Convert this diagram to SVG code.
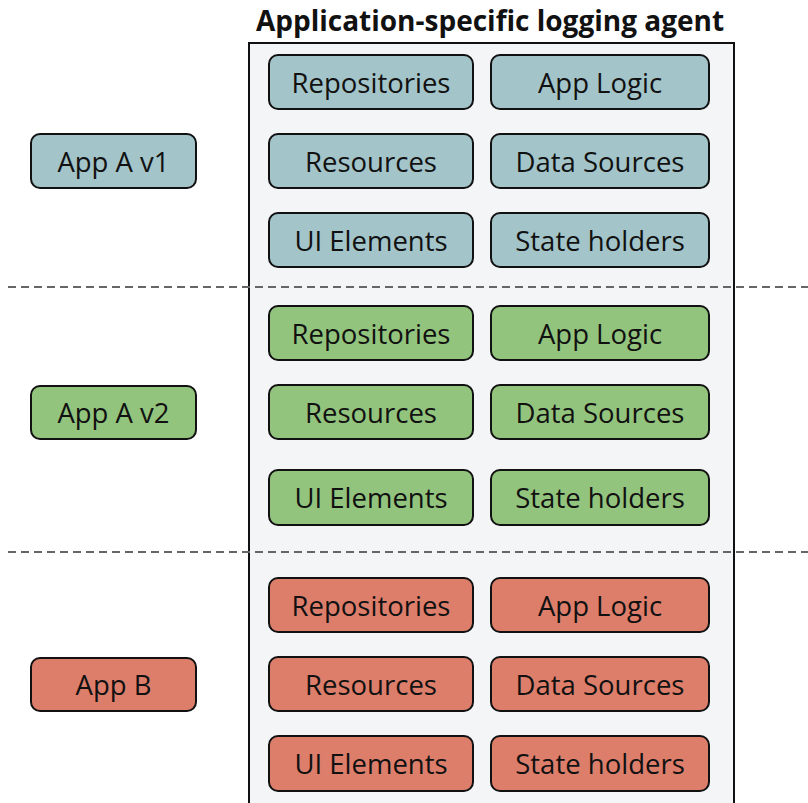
<svg xmlns="http://www.w3.org/2000/svg" width="808" height="803" viewBox="0 0 808 803">
  <style>
    .lbl { font-family: "Open Sans", "Noto Sans", "Liberation Sans", sans-serif; font-size: 27.5px; fill: #111; text-anchor: middle; dominant-baseline: central; }
    .title { font-family: "Open Sans", "Noto Sans", "Liberation Sans", sans-serif; font-size: 28px; font-weight: bold; fill: #111; text-anchor: middle; }
    .box { stroke: #111; stroke-width: 2; }
    .blue { fill: #A3C4C9; }
    .green { fill: #93C47D; }
    .red { fill: #DD7E6B; }
    .sep { stroke: #666; stroke-width: 2; stroke-dasharray: 8 5; fill: none; }
  </style>
  <rect width="808" height="803" fill="#ffffff"/>

  <!-- logging agent container -->
  <g id="agent">
    <rect x="249" y="43" width="485" height="780" fill="#F4F5F7" stroke="#111" stroke-width="2"/>
    <text class="title" x="490" y="31">Application-specific logging agent</text>
  </g>

  <!-- separators between app versions -->
  <g id="connectors">
    <line class="sep" x1="8" y1="287" x2="808" y2="287"/>
    <line class="sep" x1="8" y1="552" x2="808" y2="552"/>
  </g>

  <!-- App A v1 -->
  <g id="appAv1">
    <rect class="box blue" x="31" y="134" width="165" height="54" rx="9"/>
    <text class="lbl" x="113.5" y="161">App A v1</text>
  </g>
  <g id="v1-repositories"><rect class="box blue" x="269" y="55" width="204" height="54" rx="9"/><text class="lbl" x="371" y="82">Repositories</text></g>
  <g id="v1-applogic"><rect class="box blue" x="491" y="55" width="218" height="54" rx="9"/><text class="lbl" x="600" y="82">App Logic</text></g>
  <g id="v1-resources"><rect class="box blue" x="269" y="134" width="204" height="54" rx="9"/><text class="lbl" x="371" y="161">Resources</text></g>
  <g id="v1-datasources"><rect class="box blue" x="491" y="134" width="218" height="54" rx="9"/><text class="lbl" x="600" y="161">Data Sources</text></g>
  <g id="v1-ui"><rect class="box blue" x="269" y="213" width="204" height="54" rx="9"/><text class="lbl" x="371" y="240">UI Elements</text></g>
  <g id="v1-state"><rect class="box blue" x="491" y="213" width="218" height="54" rx="9"/><text class="lbl" x="600" y="240">State holders</text></g>

  <!-- App A v2 -->
  <g id="appAv2">
    <rect class="box green" x="31" y="386" width="165" height="53" rx="9"/>
    <text class="lbl" x="113.5" y="412.5">App A v2</text>
  </g>
  <g id="v2-repositories"><rect class="box green" x="269" y="306" width="204" height="54" rx="9"/><text class="lbl" x="371" y="333">Repositories</text></g>
  <g id="v2-applogic"><rect class="box green" x="491" y="306" width="218" height="54" rx="9"/><text class="lbl" x="600" y="333">App Logic</text></g>
  <g id="v2-resources"><rect class="box green" x="269" y="385" width="204" height="54" rx="9"/><text class="lbl" x="371" y="412">Resources</text></g>
  <g id="v2-datasources"><rect class="box green" x="491" y="385" width="218" height="54" rx="9"/><text class="lbl" x="600" y="412">Data Sources</text></g>
  <g id="v2-ui"><rect class="box green" x="269" y="470" width="204" height="55" rx="9"/><text class="lbl" x="371" y="497.5">UI Elements</text></g>
  <g id="v2-state"><rect class="box green" x="491" y="470" width="218" height="55" rx="9"/><text class="lbl" x="600" y="497.5">State holders</text></g>

  <!-- App B -->
  <g id="appB">
    <rect class="box red" x="31" y="658" width="165" height="53" rx="9"/>
    <text class="lbl" x="113.5" y="684.5">App B</text>
  </g>
  <g id="b-repositories"><rect class="box red" x="269" y="578" width="204" height="54" rx="9"/><text class="lbl" x="371" y="605">Repositories</text></g>
  <g id="b-applogic"><rect class="box red" x="491" y="578" width="218" height="54" rx="9"/><text class="lbl" x="600" y="605">App Logic</text></g>
  <g id="b-resources"><rect class="box red" x="269" y="657" width="204" height="54" rx="9"/><text class="lbl" x="371" y="684">Resources</text></g>
  <g id="b-datasources"><rect class="box red" x="491" y="657" width="218" height="54" rx="9"/><text class="lbl" x="600" y="684">Data Sources</text></g>
  <g id="b-ui"><rect class="box red" x="269" y="736" width="204" height="55" rx="9"/><text class="lbl" x="371" y="763.5">UI Elements</text></g>
  <g id="b-state"><rect class="box red" x="491" y="736" width="218" height="55" rx="9"/><text class="lbl" x="600" y="763.5">State holders</text></g>
</svg>
